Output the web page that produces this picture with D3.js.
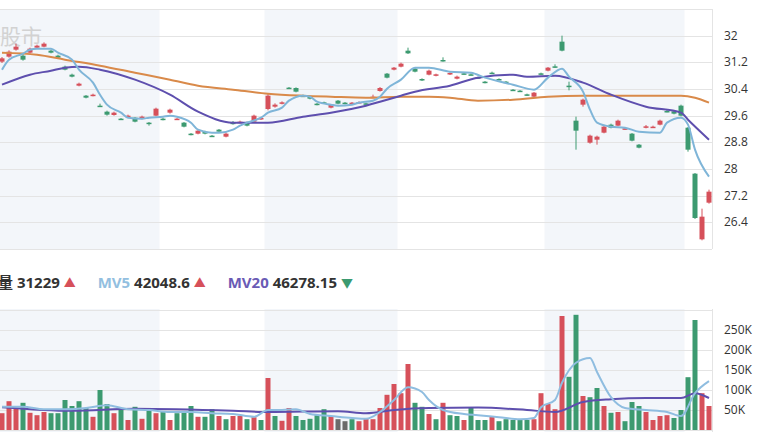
<!DOCTYPE html>
<html><head><meta charset="utf-8">
<script src="https://cdn.jsdelivr.net/npm/d3@7"></script>
<style>body{margin:0;background:#fff;overflow:hidden}svg{display:block}</style>
</head><body><div class="plot"></div>
<script>
// candles: open, close, high, low
var opens  = [31.22,31.37,31.58,31.40,31.49,31.64,31.67,31.55,31.40,31.07,30.83,30.50,30.20,30.20,29.90,29.72,29.62,29.51,29.57,29.54,29.51,29.39,29.60,29.51,29.69,29.50,29.39,29.06,29.06,29.12,29.00,29.18,28.97,29.39,29.41,29.39,29.42,29.49,29.80,29.87,29.96,30.44,30.43,30.20,30.17,29.96,30.00,29.84,30.05,29.99,29.98,29.99,29.97,30.16,30.34,30.86,30.98,31.07,31.55,31.01,30.70,30.83,30.80,31.27,30.84,30.71,30.87,30.84,30.75,30.62,30.89,30.70,30.62,30.38,30.35,30.24,30.17,30.87,30.95,31.08,31.82,30.50,29.45,29.93,28.79,28.88,29.09,29.33,29.30,29.20,29.06,28.73,29.24,29.26,29.33,29.74,29.73,29.90,29.24,27.86,25.89,26.99];
var closes = [31.32,31.52,31.67,31.28,31.61,31.70,31.76,31.49,31.34,30.98,30.77,30.56,30.14,30.23,29.89,29.63,29.69,29.50,29.60,29.42,29.57,29.35,29.81,29.50,29.78,29.51,29.27,29.03,29.15,29.06,28.99,29.12,29.06,29.38,29.42,29.30,29.60,29.53,30.20,29.93,30.00,30.41,30.32,30.19,30.11,29.93,29.98,29.93,29.96,29.96,29.99,30.01,29.95,30.17,30.43,30.74,31.04,31.16,31.47,30.92,30.66,30.95,30.84,31.24,30.88,30.77,30.85,30.83,30.72,30.59,30.87,30.68,30.60,30.36,30.33,30.21,30.29,30.85,31.04,31.05,31.55,30.48,29.15,30.08,29.00,28.97,29.27,29.24,29.45,29.22,28.85,28.64,29.28,29.27,29.45,29.72,29.66,29.60,28.58,26.53,26.57,27.32];
var highs  = [31.36,31.56,31.76,31.45,31.64,31.73,31.80,31.58,31.43,31.10,30.86,30.59,30.22,30.26,29.96,29.75,29.72,29.53,29.63,29.56,29.60,29.41,29.84,29.54,29.81,29.53,29.41,29.08,29.17,29.15,29.02,29.20,29.10,29.44,29.45,29.42,29.63,29.55,30.25,29.97,30.03,30.46,30.45,30.23,30.19,29.98,30.02,29.95,30.07,30.01,30.01,30.03,29.99,30.23,30.46,30.88,31.06,31.19,31.64,31.04,30.72,30.98,30.86,31.35,30.90,30.80,30.90,30.87,30.77,30.64,30.92,30.72,30.64,30.40,30.37,30.26,30.31,30.89,31.06,31.14,32.00,30.62,29.57,30.11,29.03,29.00,29.30,29.36,29.48,29.25,29.08,28.75,29.32,29.30,29.48,29.77,29.76,29.93,29.26,27.88,26.81,27.38];
var lows   = [31.18,31.34,31.55,31.25,31.46,31.62,31.65,31.47,31.32,30.96,30.75,30.48,30.12,30.18,29.88,29.60,29.60,29.49,29.55,29.40,29.49,29.30,29.58,29.46,29.66,29.48,29.25,29.01,29.04,29.04,28.96,29.10,28.95,29.33,29.37,29.28,29.40,29.47,29.76,29.84,29.94,30.40,30.30,30.17,30.09,29.91,29.96,29.82,29.94,29.94,29.96,29.97,29.93,30.13,30.32,30.72,30.96,31.05,31.45,30.90,30.64,30.81,30.78,31.22,30.82,30.69,30.83,30.81,30.70,30.57,30.85,30.66,30.58,30.34,30.31,30.19,30.15,30.83,30.93,31.03,31.53,30.36,28.58,29.87,28.76,28.73,29.07,29.22,29.28,29.18,28.83,28.62,29.22,29.24,29.31,29.70,29.64,29.58,28.52,26.50,25.86,26.96];
// volume, thousands, and bar colour (1 red, -1 green, 0 grey)
var volumes = [42,72,55,68,43,37,45,42,42,75,60,72,55,33,100,65,42,55,25,58,28,52,42,45,25,42,45,60,33,33,52,35,27,35,35,27,32,25,130,35,23,55,35,25,28,37,52,35,27,22,27,22,28,27,55,88,115,92,165,68,58,40,27,68,37,35,25,55,25,25,33,22,27,25,25,25,27,92,65,52,285,133,288,85,82,105,60,43,45,22,70,60,45,25,35,37,30,50,132,275,92,60];
var volDir = [1,1,1,-1,1,1,1,-1,-1,-1,-1,-1,-1,1,-1,-1,1,-1,1,-1,1,-1,1,-1,1,-1,-1,-1,1,-1,-1,1,-1,1,1,-1,1,-1,1,-1,1,1,-1,-1,-1,-1,-1,1,0,0,-1,1,1,1,1,1,1,1,1,-1,-1,1,-1,1,-1,-1,1,-1,-1,-1,1,-1,-1,-1,-1,-1,1,1,1,1,1,-1,-1,1,-1,-1,1,-1,1,-1,-1,-1,1,1,1,1,-1,-1,-1,-1,1,1];

// moving average lines: [candle index, value]
var ma5  = [[0,30.98],[1,31.28],[3,31.46],[4,31.58],[5,31.61],[7,31.61],[8,31.49],[10,31.28],[11,30.98],[13,30.59],[14,30.23],[15,29.93],[17,29.69],[18,29.54],[20,29.51],[21,29.54],[23,29.57],[24,29.60],[25,29.57],[27,29.39],[28,29.18],[30,29.09],[31,29.09],[33,29.18],[34,29.30],[35,29.39],[37,29.54],[38,29.69],[40,29.84],[41,30.05],[43,30.20],[44,30.17],[45,30.02],[47,29.93],[48,29.90],[50,29.93],[51,29.99],[53,30.05],[54,30.17],[55,30.41],[57,30.68],[59,31.04],[61,31.04],[64,30.92],[67,30.89],[69,30.74],[73,30.53],[76,30.38],[78,30.74],[80,31.01],[81,30.77],[83,30.32],[84,29.78],[85,29.39],[87,29.27],[89,29.24],[91,29.12],[94,29.09],[95,29.39],[97,29.54],[98,29.33],[99,28.58],[101,27.77]];
var ma10 = [[0,30.53],[4,30.83],[7,30.95],[9,31.04],[11,31.07],[14,30.98],[19,30.68],[24,30.23],[28,29.72],[33,29.39],[38,29.39],[43,29.57],[47,29.69],[52,29.90],[54,30.02],[57,30.20],[59,30.32],[64,30.50],[68,30.74],[73,30.83],[75,30.77],[79,30.80],[83,30.59],[87,30.23],[92,29.87],[97,29.69],[98,29.48],[101,28.88]];
var ma30 = [[0,31.49],[5,31.43],[9,31.28],[14,31.10],[19,30.89],[24,30.68],[28,30.50],[33,30.38],[38,30.26],[43,30.20],[47,30.17],[52,30.14],[57,30.17],[61,30.17],[64,30.14],[68,30.05],[73,30.08],[78,30.17],[83,30.20],[87,30.20],[92,30.20],[97,30.20],[99,30.14],[101,29.99]];
var mv5  = [[0,58],[3,58],[6,52],[9,52],[12,55],[15,62],[18,52],[21,50],[24,45],[27,45],[30,42],[33,40],[36,33],[38,50],[40,50],[42,52],[44,40],[47,35],[50,30],[52,28],[54,45],[56,75],[58,107],[60,95],[61,75],[63,50],[66,40],[68,37],[71,32],[74,27],[76,30],[77,57],[79,75],[80,118],[82,168],[84,180],[85,145],[87,82],[89,55],[92,50],[95,45],[97,35],[99,92],[101,122]];
var mv20 = [[0,57],[10,48],[19,53],[33,48],[38,45],[48,47],[52,42],[56,50],[61,55],[68,56],[75,50],[79,45],[83,70],[87,77],[92,80],[97,80],[99,92],[101,80]];

var priceTicks = [26.4,27.2,28,28.8,29.6,30.4,31.2,32];
var volTicks = [50,100,150,200,250];
var bands = [[-0.5,22.5],[37.5,56.5],[77.5,97.5]];

var w = 776, h = 436, right = 712;
var red = '#d6505a', green = '#3c9a70';
var volColor = {'1':red,'-1':green,'0':'#6b6b6b'};

var svg = d3.select('.plot').append('svg').attr('width',w).attr('height',h)
	.style('font-family','"Open Sans", "Noto Sans CJK SC", sans-serif');

var x = d3.scaleLinear().domain([0,101]).range([2,709]);
var y = d3.scaleLinear().domain([25.6,32.8]).range([249,9]);
var yv = d3.scaleLinear().domain([0,250]).range([430,330]);

//background bands for both panes
[[9,249],[309,432]].forEach(function(p){
	svg.selectAll(null).data(bands).enter().append('rect')
		.attr('x',function(d){return Math.max(0,x(d[0]));})
		.attr('width',function(d){return x(d[1])-Math.max(0,x(d[0]));})
		.attr('y',p[0]).attr('height',p[1]-p[0])
		.attr('fill','#f3f6fa');
});

//grid
svg.selectAll(null).data(d3.range(25.6,32.81,0.8)).enter().append('line')
	.attr('x1',0).attr('x2',right).attr('y1',function(d){return Math.round(y(d))+0.5;}).attr('y2',function(d){return Math.round(y(d))+0.5;})
	.attr('stroke','#e4e4e4');
svg.selectAll(null).data([0,50,100,150,200,250,300]).enter().append('line')
	.attr('x1',0).attr('x2',right).attr('y1',function(d){return Math.round(yv(d))+0.5;}).attr('y2',function(d){return Math.round(yv(d))+0.5;})
	.attr('stroke','#e4e4e4');
svg.append('line').attr('x1',right+0.5).attr('x2',right+0.5).attr('y1',9).attr('y2',249).attr('stroke','#e4e4e4');
svg.append('line').attr('x1',right+0.5).attr('x2',right+0.5).attr('y1',309).attr('y2',432).attr('stroke','#e4e4e4');

//axis labels
svg.selectAll(null).data(priceTicks).enter().append('text')
	.attr('x',724).attr('y',function(d){return y(d)+4;})
	.attr('font-size',12).attr('fill','#333').text(function(d){return d;});
svg.selectAll(null).data(volTicks).enter().append('text')
	.attr('x',724).attr('y',function(d){return yv(d)+4;})
	.attr('font-size',12).attr('fill','#333').text(function(d){return d+'K';});

//watermark title
svg.append('text').attr('x',42).attr('y',44).attr('text-anchor','end')
	.attr('font-size',21).attr('fill','#d2d2d2').text('股市');

//candles
var idx = d3.range(opens.length);
var up = function(i){return closes[i]>=opens[i];};
var g = svg.append('g');
g.selectAll(null).data(idx).enter().append('line')
	.attr('x1',function(i){return x(i);}).attr('x2',function(i){return x(i);})
	.attr('y1',function(i){return y(highs[i]);}).attr('y2',function(i){return y(lows[i]);})
	.attr('stroke',function(i){return up(i)?red:green;});
g.selectAll(null).data(idx).enter().append('rect')
	.attr('x',function(i){return x(i)-2.5;}).attr('width',5)
	.attr('y',function(i){return y(Math.max(opens[i],closes[i]));})
	.attr('height',function(i){return Math.max(1.5,Math.abs(y(opens[i])-y(closes[i])));})
	.attr('fill',function(i){return up(i)?red:green;});

//lines
function drawLine(data,sy,color,width){
	var line = d3.line().x(function(d){return x(d[0]);}).y(function(d){return sy(d[1]);}).curve(d3.curveMonotoneX);
	svg.append('path').datum(data).attr('d',line).attr('fill','none')
		.attr('stroke',color).attr('stroke-width',width);
}
drawLine(ma30,y,'#d98a4a',2);
drawLine(ma10,y,'#5e4fae',2);
drawLine(ma5,y,'#7fb5d8',2);

//volume bars
svg.selectAll(null).data(idx).enter().append('rect')
	.attr('x',function(i){return x(i)-2.5;}).attr('width',5)
	.attr('y',function(i){return yv(volumes[i]);})
	.attr('height',function(i){return yv(0)-yv(volumes[i]);})
	.attr('fill',function(i){return volColor[volDir[i]];});
drawLine(mv20,yv,'#5e4fae',2);
drawLine(mv5,yv,'#8fbde0',2);

//legend
var leg = svg.append('text').attr('x',-2).attr('y',288).attr('font-size',15).attr('font-weight','bold');
leg.append('tspan').attr('fill','#333').text('量 31229 ');
leg.append('tspan').attr('fill',red).attr('font-size',12).text('▲');
leg.append('tspan').attr('dx',22).attr('fill','#93bfe0').text('MV5');
leg.append('tspan').attr('fill','#333').text(' 42048.6 ');
leg.append('tspan').attr('fill',red).attr('font-size',12).text('▲');
leg.append('tspan').attr('dx',22).attr('fill','#6a5bb5').text('MV20');
leg.append('tspan').attr('fill','#333').text(' 46278.15 ');
leg.append('tspan').attr('fill',green).attr('font-size',12).text('▼');
</script>
</body></html>
